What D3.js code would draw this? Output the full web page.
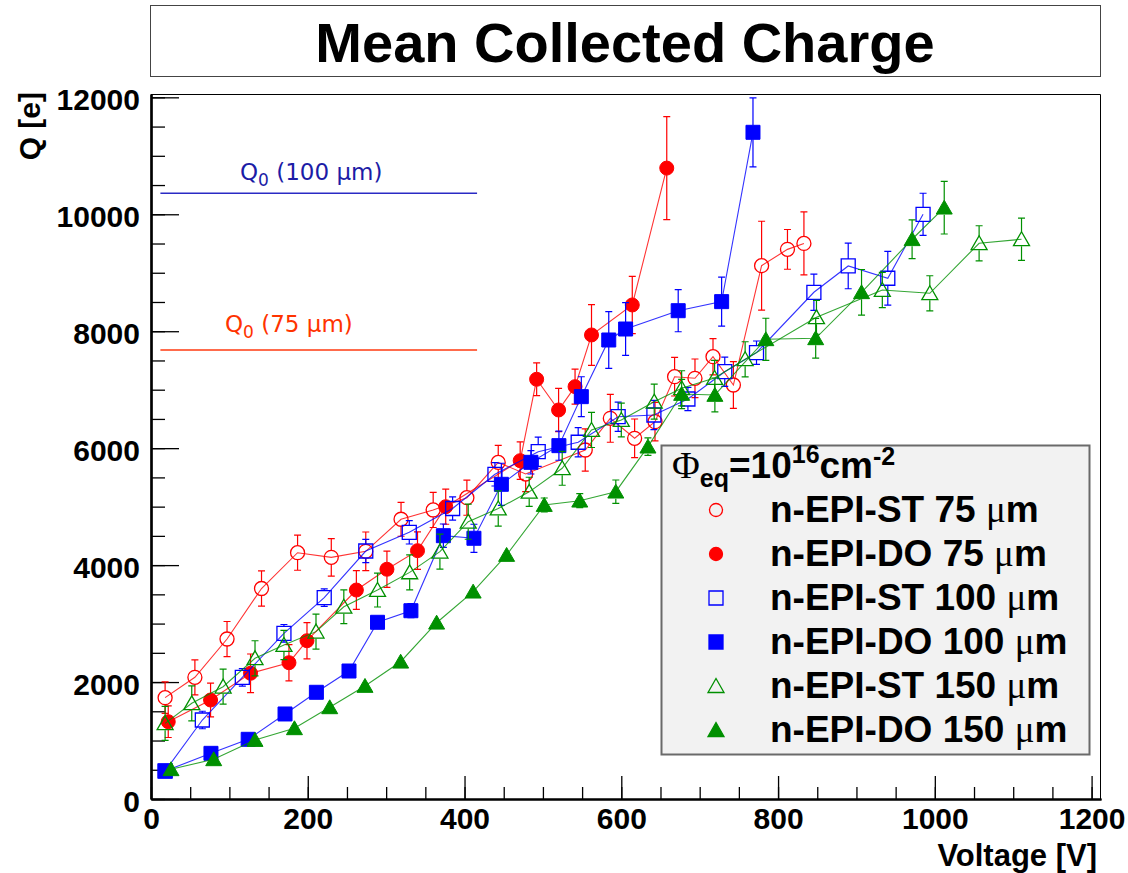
<!DOCTYPE html>
<html><head><meta charset="utf-8">
<script src="https://cdn.jsdelivr.net/npm/d3@7"></script>
<style>body{margin:0;background:#fff}</style>
</head><body>
<svg id="c" width="1128" height="873"></svg>
<script>
// ---------------- data ----------------
const voltST75   = [18, 56, 97, 141, 187, 230, 274, 319, 360, 403, 443, 478, 554, 586, 617, 643, 668, 694, 717, 743, 779, 812, 833];
const chargeST75 = [1733, 2081, 2736, 3600, 4212, 4133, 4236, 4784, 4943, 5153, 5757, 5558, 5969, 6511, 6169, 6453, 7222, 7195, 7565, 7080, 9121, 9400, 9502];
const errST75    = [270, 300, 300, 300, 300, 320, 330, 290, 300, 300, 290, 300, 360, 410, 330, 330, 330, 330, 310, 400, 760, 340, 540];

const voltDO75   = [22, 76, 127, 176, 199, 262, 301, 340, 376, 471, 492, 520, 541, 562, 614, 658];
const chargeDO75 = [1322, 1693, 2150, 2331, 2707, 3574, 3929, 4247, 4999, 5786, 7178, 6653, 7052, 7936, 8449, 10790];
const errDO75    = [270, 290, 330, 310, 310, 330, 310, 320, 300, 320, 280, 370, 300, 520, 490, 880];

const voltST100   = [18, 65.5, 116.5, 169.6, 221, 274, 329.5, 384.8, 438.8, 494, 545, 596, 641.6, 685, 732, 772.5, 845.7, 889.5, 940, 985];
const chargeST100 = [479, 1351, 2081, 2834, 3443, 4241, 4561, 4968, 5553, 5940, 6101, 6538, 6567, 6841, 7308, 7633, 8666, 9116, 8906, 10000];
const errST100    = [80, 150, 150, 150, 150, 200, 200, 200, 200, 250, 250, 250, 250, 200, 250, 200, 310, 390, 460, 360];

const voltDO100   = [18, 76.5, 124, 171, 211, 252.6, 289, 331.6, 373, 412, 447, 484.7, 520.4, 549, 584, 605.5, 672.6, 728, 768];
const chargeDO100 = [479, 781, 1021, 1454, 1825, 2189, 3022, 3220, 4503, 4459, 5382, 5758, 6043, 6881, 7850, 8038, 8351, 8506, 11402];
const errDO100    = [60, 60, 80, 80, 80, 80, 100, 120, 200, 240, 360, 200, 250, 340, 485, 450, 360, 420, 590];

const voltST150   = [18, 52, 92, 132.7, 169.6, 210.5, 246, 289, 330, 368.6, 404.7, 443, 482.5, 524.6, 562, 600, 642, 677, 719, 758, 849, 933, 993.6, 1056.5, 1110.6];
const chargeST150 = [1294, 1636, 1921, 2406, 2634, 2862, 3288, 3574, 3876, 4230, 4742, 4968, 5253, 5656, 6311, 6482, 6795, 7024, 7200, 7520, 8238, 8705, 8649, 9504, 9573];
const errST150    = [290, 300, 300, 300, 250, 300, 290, 290, 300, 300, 300, 300, 250, 290, 300, 290, 300, 300, 300, 300, 290, 300, 300, 300, 360];

const voltDO150   = [25.5, 80, 132.7, 183, 228, 273, 318.5, 364.4, 411, 453.7, 501.7, 547, 593, 634, 677, 719.4, 784.4, 848, 906.5, 971, 1012];
const chargeDO150 = [508, 679, 1009, 1209, 1568, 1933, 2348, 3015, 3546, 4173, 5028, 5102, 5256, 6026, 6927, 6910, 7862, 7879, 8666, 9573, 10113];
const errDO150    = [50, 60, 60, 70, 80, 80, 90, 100, 100, 110, 120, 120, 200, 150, 250, 290, 360, 340, 390, 330, 450];

const legendLabels = ["n-EPI-ST 75 \u03bcm", "n-EPI-DO 75 \u03bcm", "n-EPI-ST 100 \u03bcm", "n-EPI-DO 100 \u03bcm", "n-EPI-ST 150 \u03bcm", "n-EPI-DO 150 \u03bcm"];
const q0Values  = [10360, 7680];
const q0Labels  = ["(100 \u03bcm)", "(75 \u03bcm)"];
const q0Range   = [12, 416];
const xTicks = [0, 200, 400, 600, 800, 1000, 1200];
const yTicks = [0, 2000, 4000, 6000, 8000, 10000, 12000];
const titleText = "Mean Collected Charge";

// ---------------- styles ----------------
const RED = "#ff0000", BLUE = "#0000ff", GREEN = "#009000";
const styles = [
  {color: RED,   shape: "circle",   filled: false},
  {color: RED,   shape: "circle",   filled: true},
  {color: BLUE,  shape: "square",   filled: false},
  {color: BLUE,  shape: "square",   filled: true},
  {color: GREEN, shape: "triangle", filled: false},
  {color: GREEN, shape: "triangle", filled: true}
];
const dataSets = [
  [voltST75, chargeST75, errST75],
  [voltDO75, chargeDO75, errDO75],
  [voltST100, chargeST100, errST100],
  [voltDO100, chargeDO100, errDO100],
  [voltST150, chargeST150, errST150],
  [voltDO150, chargeDO150, errDO150]
];
const q0Colors = [{line: "#2a2ac4", text: "#1c1ca6"}, {line: "#ff3a10", text: "#ff3300"}];

const FONT = "'Liberation Sans', Arial, Helvetica, sans-serif";
const SERIF = "'Liberation Serif', 'Times New Roman', serif";
const svg = d3.select("#c");

const x = d3.scaleLinear().domain([0, 1212]).range([151, 1101]);
const y = d3.scaleLinear().domain([0, 12057]).range([799, 94]);

// title box
svg.append("rect").attr("x", 150.5).attr("y", 5.5).attr("width", 950).attr("height", 71)
  .attr("fill", "#fff").attr("stroke", "#444").attr("stroke-width", 1);
svg.append("text").attr("x", 625).attr("y", 62).attr("text-anchor", "middle")
  .attr("font-family", FONT).attr("font-weight", "bold").attr("font-size", 56).text(titleText);

// frame (top & right)
svg.append("path").attr("d", `M${x.range()[0]},${y.range()[1]+0.5}H${x.range()[1]-0.5}V${y.range()[0]}`)
  .attr("fill", "none").attr("stroke", "#000").attr("stroke-width", 1);

// axes
function styleAxis(g) {
  g.select(".domain").attr("stroke", "#000").attr("stroke-width", 2.2);
  g.selectAll(".tick line").attr("stroke", "#000").attr("stroke-width", 1.3);
  g.selectAll("text").attr("font-family", FONT).attr("font-weight", "bold").attr("font-size", 30).attr("fill", "#000");
}
const minorX = d3.range(0, 1201, 50);
const minorY = d3.range(0, 12001, 500);
svg.append("g").attr("transform", `translate(0,${y(0)})`)
  .call(d3.axisBottom(x).tickValues(minorX).tickSize(-12).tickSizeOuter(0).tickFormat(""))
  .call(styleAxis);
svg.append("g").attr("transform", `translate(0,${y(0)})`)
  .call(d3.axisBottom(x).tickValues(xTicks).tickSize(-23).tickSizeOuter(0).tickPadding(9).tickFormat(d3.format("d")))
  .call(styleAxis);
svg.append("g").attr("transform", `translate(${x(0)},0)`)
  .call(d3.axisLeft(y).tickValues(minorY).tickSize(-14).tickSizeOuter(0).tickFormat(""))
  .call(styleAxis);
const yg = svg.append("g").attr("transform", `translate(${x(0)},0)`)
  .call(d3.axisLeft(y).tickValues(yTicks).tickSize(-28).tickSizeOuter(0).tickPadding(11).tickFormat(d3.format("d")))
  .call(styleAxis);
yg.selectAll("text").attr("dy", "0.4em");

// axis titles
svg.append("text").attr("x", 1097).attr("y", 866).attr("text-anchor", "end")
  .attr("font-family", FONT).attr("font-weight", "bold").attr("font-size", 31).text("Voltage [V]");
svg.append("text").attr("transform", "translate(40,92) rotate(-90)").attr("text-anchor", "end")
  .attr("font-family", FONT).attr("font-weight", "bold").attr("font-size", 30).text("Q [e]");

// Q0 reference lines
q0Values.forEach((q, i) => {
  svg.append("line").attr("x1", x(q0Range[0])).attr("x2", x(q0Range[1])).attr("y1", y(q)).attr("y2", y(q))
    .attr("stroke", q0Colors[i].line).attr("stroke-width", 1.6);
});
const q0LabelX = [240, 225], q0LabelDy = [-13, -18];
q0Values.forEach((q, i) => {
  const t = svg.append("text").attr("x", q0LabelX[i]).attr("y", y(q) + q0LabelDy[i])
    .attr("font-family", "'DejaVu Sans', Verdana, sans-serif").attr("font-size", 23).attr("fill", q0Colors[i].text);
  t.append("tspan").text("Q");
  t.append("tspan").attr("font-size", 17).attr("dy", 6).text("0");
  t.append("tspan").attr("dy", -6).text(" " + q0Labels[i]);
});

// markers
function markerPath(shape, cx, cy) {
  if (shape === "circle") {
    const r = 7;
    return `M${cx - r},${cy}a${r},${r} 0 1,0 ${2*r},0a${r},${r} 0 1,0 ${-2*r},0Z`;
  } else if (shape === "square") {
    const h = 7;
    return `M${cx-h},${cy-h}H${cx+h}V${cy+h}H${cx-h}Z`;
  } else {
    const s = 8, hh = 7.5;
    return `M${cx},${cy-hh}L${cx+s},${cy+hh*0.85}L${cx-s},${cy+hh*0.85}Z`;
  }
}
const gap = 7, cap = 3.5;
dataSets.forEach((ds, k) => {
  const [vv, qq, ee] = ds;
  const st = styles[k];
  const g = svg.append("g");
  const pts = vv.map((v, i) => ({v, q: qq[i], e: ee[i]}));
  g.append("path").datum(pts)
    .attr("d", d3.line().x(d => x(d.v)).y(d => y(d.q)))
    .attr("fill", "none").attr("stroke", st.color).attr("stroke-width", 1.1).attr("stroke-opacity", 0.8);
  pts.forEach(d => {
    const cx = x(d.v), cy = y(d.q);
    const top = y(d.q + d.e), bot = y(d.q - d.e);
    if (cy - top > gap) {
      g.append("path").attr("d", `M${cx},${cy-gap}V${top}M${cx-cap},${top}H${cx+cap}M${cx},${cy+gap}V${bot}M${cx-cap},${bot}H${cx+cap}`)
        .attr("fill", "none").attr("stroke", st.color).attr("stroke-width", 1.2);
    }
  });
  g.selectAll("path.m").data(pts).join("path").attr("class", "m")
    .attr("d", d => markerPath(st.shape, x(d.v), y(d.q)))
    .attr("fill", st.filled ? st.color : "none")
    .attr("stroke", st.color).attr("stroke-width", st.filled ? 1 : 1.3);
});

// legend
const lg = svg.append("g");
lg.append("rect").attr("x", 661.5).attr("y", 445.5).attr("width", 428).attr("height", 309)
  .attr("fill", "#f2f2f2").attr("stroke", "#6a6a6a").attr("stroke-width", 2);
const head = lg.append("text").attr("x", 672).attr("y", 478).attr("font-family", FONT).attr("font-weight", "bold").attr("font-size", 37);
head.append("tspan").attr("font-family", SERIF).attr("font-weight", "normal").attr("font-size", 38).text("\u03a6");
head.append("tspan").attr("font-size", 25).attr("dy", 9).text("eq");
head.append("tspan").attr("dy", -9).text("=10");
head.append("tspan").attr("font-size", 25).attr("dy", -15).text("16");
head.append("tspan").attr("dy", 15).text("cm");
head.append("tspan").attr("font-size", 25).attr("dy", -13).text("-2");
const rowY = [522, 566, 610, 654, 698, 742];
legendLabels.forEach((lab, i) => {
  const st = styles[i];
  const my = rowY[i] - 12;
  const shp = st.shape;
  let d;
  if (shp === "circle") d = `M${716-6.5},${my}a6.5,6.5 0 1,0 13,0a6.5,6.5 0 1,0 -13,0Z`;
  else if (shp === "square") d = `M${716-7},${my-7}H${716+7}V${my+7}H${716-7}Z`;
  else d = `M716,${my-7.5}L${716+8},${my+6.5}L${716-8},${my+6.5}Z`;
  lg.append("path").attr("d", d).attr("fill", st.filled ? st.color : "none").attr("stroke", st.color).attr("stroke-width", 1.3);
  const parts = lab.split("\u03bc");
  const t = lg.append("text").attr("x", 770).attr("y", rowY[i]).attr("font-family", FONT).attr("font-weight", "bold").attr("font-size", 37);
  t.append("tspan").text(parts[0]);
  t.append("tspan").attr("font-family", SERIF).attr("font-weight", "normal").text("\u03bc");
  t.append("tspan").text(parts[1]);
});
</script>
</body></html>
